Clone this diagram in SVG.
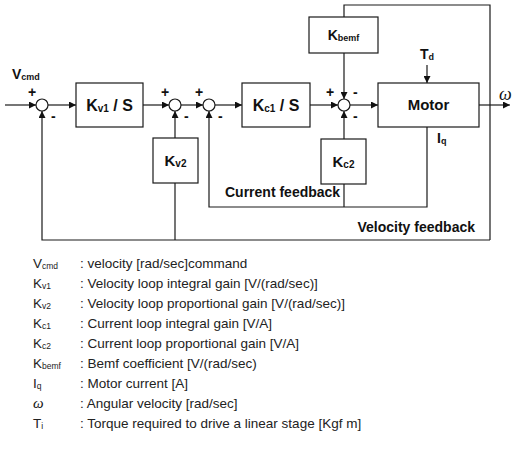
<svg xmlns="http://www.w3.org/2000/svg" width="515" height="456" viewBox="0 0 515 456">
<style>
.ln{fill:none;stroke:#1a1a1a;stroke-width:1.2}
.bx{fill:#fff;stroke:#1a1a1a;stroke-width:1.2}
.jn{fill:#fff;stroke:#1a1a1a;stroke-width:1.2}
.b{font-family:"Liberation Sans",Arial,sans-serif;font-weight:bold;fill:#111}
.lab{font-size:16px}
.sg{font-family:"Liberation Sans",Arial,sans-serif;font-weight:bold;font-size:14px;fill:#111}
.lg{font-family:"Liberation Sans",Arial,sans-serif;font-size:13.5px;fill:#222}
.om{font-family:"Liberation Serif","Times New Roman",serif;font-style:italic;fill:#111}
</style>
<defs>
<marker id="ah" viewBox="0 0 10 10" refX="10" refY="5" markerWidth="8" markerHeight="7" orient="auto" markerUnits="userSpaceOnUse"><path d="M0,0 L10,5 L0,10 z" fill="#111"/></marker>
</defs>
<rect width="515" height="456" fill="#fff"/>

<g id="connectors">
<line class="ln" x1="5" y1="105" x2="36" y2="105" marker-end="url(#ah)"/>
<line class="ln" x1="48" y1="105" x2="76" y2="105" marker-end="url(#ah)"/>
<line class="ln" x1="143" y1="105" x2="169" y2="105" marker-end="url(#ah)"/>
<line class="ln" x1="181" y1="105" x2="203" y2="105" marker-end="url(#ah)"/>
<line class="ln" x1="215" y1="105" x2="242" y2="105" marker-end="url(#ah)"/>
<line class="ln" x1="310" y1="105" x2="338" y2="105" marker-end="url(#ah)"/>
<line class="ln" x1="350" y1="105" x2="378" y2="105" marker-end="url(#ah)"/>
<line class="ln" x1="479" y1="105" x2="510" y2="105" marker-end="url(#ah)"/>
<polyline class="ln" points="490,240 490,5 344,5 344,17"/>
<line class="ln" x1="344" y1="53" x2="344" y2="99" marker-end="url(#ah)"/>
<line class="ln" x1="427" y1="65" x2="427" y2="83" marker-end="url(#ah)"/>
<polyline class="ln" points="427,127 427,207 209,207 209,111" marker-end="url(#ah)"/>
<line class="ln" x1="344" y1="207" x2="344" y2="184"/>
<line class="ln" x1="344" y1="139" x2="344" y2="111" marker-end="url(#ah)"/>
<polyline class="ln" points="490,240 42,240 42,111" marker-end="url(#ah)"/>
<line class="ln" x1="175" y1="240" x2="175" y2="183"/>
<line class="ln" x1="175" y1="138" x2="175" y2="111" marker-end="url(#ah)"/>
</g>

<g id="j1"><circle class="jn" cx="42" cy="105" r="6"/><text class="sg" x="28" y="97">+</text><text class="sg" x="51" y="121">-</text></g>
<g id="j2"><circle class="jn" cx="175" cy="105" r="6"/><text class="sg" x="161" y="97">+</text><text class="sg" x="184" y="121">-</text></g>
<g id="j3"><circle class="jn" cx="209" cy="105" r="6"/><text class="sg" x="195" y="97">+</text><text class="sg" x="218" y="121">-</text></g>
<g id="j4"><circle class="jn" cx="344" cy="105" r="6"/><text class="sg" x="326" y="97">+</text><text class="sg" x="353" y="97">-</text><text class="sg" x="353" y="121">-</text></g>

<g id="vcmd"><text class="b" x="12" y="79" font-size="14">V<tspan font-size="9" dy="1">cmd</tspan></text></g>

<g id="kv1s"><rect class="bx" x="76" y="83" width="67" height="44"/><text class="b lab" x="109.5" y="111" text-anchor="middle">K<tspan font-size="10" dy="1">v1</tspan><tspan dy="-1"> / S</tspan></text></g>
<g id="kc1s"><rect class="bx" x="242" y="83" width="68" height="44"/><text class="b lab" x="276" y="111" text-anchor="middle">K<tspan font-size="10" dy="1">c1</tspan><tspan dy="-1"> / S</tspan></text></g>
<g id="kv2"><rect class="bx" x="153" y="138" width="45" height="45"/><text class="b" font-size="15" x="175.5" y="166" text-anchor="middle">K<tspan font-size="10" dy="1">v2</tspan></text></g>
<g id="kc2"><rect class="bx" x="321" y="139" width="45" height="45"/><text class="b" font-size="15" x="343.5" y="167" text-anchor="middle">K<tspan font-size="10" dy="1">c2</tspan></text></g>
<g id="kbemf"><rect class="bx" x="309" y="17" width="69" height="36"/><text class="b" font-size="14" x="343.5" y="40" text-anchor="middle">K<tspan font-size="9" dy="1">bemf</tspan></text></g>
<g id="motor"><rect class="bx" x="378" y="83" width="101" height="44"/><text class="b" font-size="15" x="428.5" y="110" text-anchor="middle">Motor</text></g>
<g id="td"><text class="b" font-size="14" x="420" y="59">T<tspan font-size="9" dy="1">d</tspan></text></g>
<g id="iq"><text class="b" font-size="14" x="437" y="143">I<tspan font-size="9" dy="1">q</tspan></text></g>
<g id="omega"><text class="om" font-size="18" x="499" y="100">ω</text></g>
<g id="cf"><text class="sg" x="225" y="197">Current feedback</text></g>
<g id="vf"><text class="sg" x="475" y="232" text-anchor="end">Velocity feedback</text></g>

<g id="legend">
<text class="lg" x="33" y="268">V<tspan font-size="8.5" dy="1">cmd</tspan></text><text class="lg" x="80" y="268">: velocity [rad/sec]command</text>
<text class="lg" x="33" y="288">K<tspan font-size="8.5" dy="1">v1</tspan></text><text class="lg" x="80" y="288">: Velocity loop integral gain [V/(rad/sec)]</text>
<text class="lg" x="33" y="308">K<tspan font-size="8.5" dy="1">v2</tspan></text><text class="lg" x="80" y="308">: Velocity loop proportional gain [V/(rad/sec)]</text>
<text class="lg" x="33" y="328">K<tspan font-size="8.5" dy="1">c1</tspan></text><text class="lg" x="80" y="328">: Current loop integral gain [V/A]</text>
<text class="lg" x="33" y="348">K<tspan font-size="8.5" dy="1">c2</tspan></text><text class="lg" x="80" y="348">: Current loop proportional gain [V/A]</text>
<text class="lg" x="33" y="368">K<tspan font-size="8.5" dy="1">bemf</tspan></text><text class="lg" x="80" y="368">: Bemf coefficient [V/(rad/sec)</text>
<text class="lg" x="33" y="388">I<tspan font-size="8.5" dy="1">q</tspan></text><text class="lg" x="80" y="388">: Motor current [A]</text>
<text class="om" font-size="15" x="33" y="408">ω</text><text class="lg" x="80" y="408">: Angular velocity [rad/sec]</text>
<text class="lg" x="33" y="428">T<tspan font-size="8.5" dy="1">i</tspan></text><text class="lg" x="80" y="428">: Torque required to drive a linear stage [Kgf m]</text>
</g>
</svg>
